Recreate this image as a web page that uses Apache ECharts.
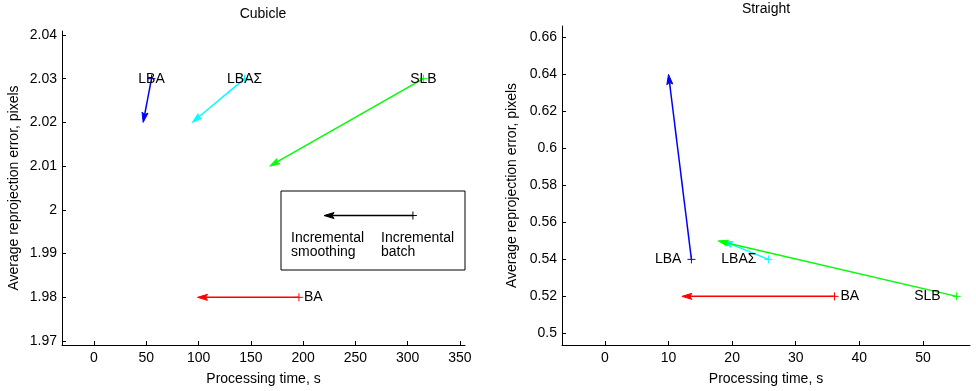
<!DOCTYPE html>
<html>
<head>
<meta charset="utf-8">
<script src="https://cdn.jsdelivr.net/npm/echarts@6/dist/echarts.min.js"></script>
<style>html,body{margin:0;padding:0;background:#fff}#c{width:976px;height:391px}</style>
</head>
<body>
<div id="c"></div>
<script>
// ---- data ----
const methods = ['LBA', 'LBAΣ', 'SLB', 'BA'];
// Cubicle: incremental batch (start, "+") -> incremental smoothing (arrow tip)
const cubicleBatchTime   = [55, 144, 315, 196];
const cubicleBatchError  = [2.03, 2.03, 2.03, 1.98];
const cubicleSmoothTime  = [47, 94, 168, 99];
const cubicleSmoothError = [2.02, 2.02, 2.01, 1.98];
// Straight
const straightBatchTime   = [13.6, 25.7, 55.3, 36.1];
const straightBatchError  = [0.54, 0.54, 0.52, 0.52];
const straightSmoothTime  = [10, 18.5, 17.8, 12.1];
const straightSmoothError = [0.64, 0.55, 0.55, 0.52];
// legend sample arrow (cubicle panel)
const legendNames = ['legend'];
const legendTime  = [305, 220];
const legendError = [1.9987, 1.9987];
// tick labels
const cubicleXTicks  = [0, 50, 100, 150, 200, 250, 300, 350];
const cubicleYTicks  = [1.97, 1.98, 1.99, 2.00, 2.01, 2.02, 2.03, 2.04];
const straightXTicks = [0, 10, 20, 30, 40, 50];
const straightYTicks = [0.50, 0.52, 0.54, 0.56, 0.58, 0.60, 0.62, 0.64, 0.66];

// ---- styles ----
const FONT = 'Liberation Sans, Arial, Helvetica, sans-serif';
const colors = { 'LBA': '#0000ff', 'LBAΣ': '#00ffff', 'SLB': '#00ff00', 'BA': '#ff0000', 'legend': '#000000' };
const cubicleLabelPos  = { 'LBA': ['center', 0], 'LBAΣ': ['center', 0], 'SLB': ['center', 0], 'BA': ['right', 5] };
const straightLabelPos = { 'LBA': ['left', 10], 'LBAΣ': ['left', 12], 'SLB': ['left', 16], 'BA': ['right', 6] };

function buildData(bt, be, st, se) {
  return bt.map((v, i) => [bt[i], be[i], st[i], se[i]]);
}

function makeRender(names, labelPos) {
  return function (params, api) {
    const s = api.coord([api.value(0), api.value(1)]);
    const e = api.coord([api.value(2), api.value(3)]);
    const name = names[params.dataIndex];
    const col = colors[name] || '#000';
    const ang = Math.atan2(e[1] - s[1], e[0] - s[0]);
    const c = Math.cos(ang), sn = Math.sin(ang);
    const L = 10, W = 3;
    const bx = e[0] - L * c, by = e[1] - L * sn;
    const nx = e[0] - 0.8 * L * c, ny = e[1] - 0.8 * L * sn;
    const px = -sn, py = c;
    const children = [
      { type: 'line', shape: { x1: s[0], y1: s[1], x2: nx, y2: ny }, style: { stroke: col, lineWidth: 1.5 } },
      { type: 'polygon', shape: { points: [[e[0], e[1]], [bx + W * px, by + W * py], [nx, ny], [bx - W * px, by - W * py]] }, style: { fill: col, stroke: col, lineWidth: 1 } },
      { type: 'line', shape: { x1: s[0] - 4, y1: s[1], x2: s[0] + 4, y2: s[1] }, style: { stroke: col, lineWidth: 1 } },
      { type: 'line', shape: { x1: s[0], y1: s[1] - 4, x2: s[0], y2: s[1] + 4 }, style: { stroke: col, lineWidth: 1 } }
    ];
    const lp = labelPos && labelPos[name];
    if (lp) {
      let tx = s[0], align = 'center';
      if (lp[0] === 'right') { tx = s[0] + lp[1]; align = 'left'; }
      else if (lp[0] === 'left') { tx = s[0] - lp[1]; align = 'right'; }
      children.push({ type: 'text', x: tx, y: s[1], style: { text: name, fill: '#000', font: '14px ' + FONT, align: align, verticalAlign: 'middle' } });
    }
    return { type: 'group', children: children };
  };
}

function fmt(v) { return String(+(+v).toFixed(2)); }

function xAxis(gridIndex, min, max, ticks) {
  return {
    type: 'value', gridIndex, min, max,
    name: 'Processing time, s', nameLocation: 'middle', nameGap: 27,
    nameTextStyle: { color: '#000', fontSize: 14, fontFamily: FONT },
    axisLine: { show: true, onZero: false, lineStyle: { color: '#000', width: 1 } },
    axisTick: { show: true, inside: true, length: 4, customValues: ticks, lineStyle: { color: '#000' } },
    axisLabel: { show: true, customValues: ticks, formatter: fmt, color: '#000', fontSize: 14, fontFamily: FONT, margin: 6, showMinLabel: true, showMaxLabel: true },
    splitLine: { show: false }
  };
}
function yAxis(gridIndex, min, max, ticks, gap) {
  return {
    type: 'value', gridIndex, min, max,
    name: 'Average reprojection error, pixels', nameLocation: 'middle', nameGap: gap,
    nameTextStyle: { color: '#000', fontSize: 14, fontFamily: FONT },
    axisLine: { show: true, onZero: false, lineStyle: { color: '#000', width: 1 } },
    axisTick: { show: true, inside: true, length: 4, customValues: ticks, lineStyle: { color: '#000' } },
    axisLabel: { show: true, customValues: ticks, formatter: fmt, color: '#000', fontSize: 14, fontFamily: FONT, margin: 5, showMinLabel: true, showMaxLabel: true },
    splitLine: { show: false }
  };
}

const chart = echarts.init(document.getElementById('c'), null, { renderer: 'canvas' });
chart.setOption({
  animation: false,
  backgroundColor: '#fff',
  textStyle: { fontFamily: FONT },
  grid: [
    { left: 62, top: 31, width: 403, height: 317 },
    { left: 562, top: 26, width: 408, height: 322 }
  ],
  xAxis: [
    xAxis(0, -30.6, 354.8, cubicleXTicks),
    xAxis(1, -6.75, 57.4, straightXTicks)
  ],
  yAxis: [
    yAxis(0, 1.9691, 2.0409, cubicleYTicks, 41),
    yAxis(1, 0.4937, 0.6662, straightYTicks, 43)
  ],
  graphic: [
    { type: 'text', x: 263, y: 14, style: { text: 'Cubicle', fill: '#000', font: '14px ' + FONT, align: 'center', verticalAlign: 'middle' } },
    { type: 'text', x: 766, y: 9, style: { text: 'Straight', fill: '#000', font: '14px ' + FONT, align: 'center', verticalAlign: 'middle' } },
    { type: 'rect', shape: { x: 281, y: 191, width: 184, height: 79 }, style: { fill: '#fff', stroke: '#000', lineWidth: 1 }, z: 1 },
    { type: 'text', x: 291, y: 245, z: 10, style: { text: 'Incremental\nsmoothing', fill: '#000', font: '14px ' + FONT, lineHeight: 14, align: 'left', verticalAlign: 'middle' } },
    { type: 'text', x: 381, y: 245, z: 10, style: { text: 'Incremental\nbatch', fill: '#000', font: '14px ' + FONT, lineHeight: 14, align: 'left', verticalAlign: 'middle' } }
  ],
  series: [
    { type: 'custom', name: 'Cubicle', xAxisIndex: 0, yAxisIndex: 0, z: 5,
      renderItem: makeRender(methods, cubicleLabelPos),
      data: buildData(cubicleBatchTime, cubicleBatchError, cubicleSmoothTime, cubicleSmoothError) },
    { type: 'custom', name: 'Legend', xAxisIndex: 0, yAxisIndex: 0, z: 5,
      renderItem: makeRender(legendNames, null),
      data: [[legendTime[0], legendError[0], legendTime[1], legendError[1]]] },
    { type: 'custom', name: 'Straight', xAxisIndex: 1, yAxisIndex: 1, z: 5,
      renderItem: makeRender(methods, straightLabelPos),
      data: buildData(straightBatchTime, straightBatchError, straightSmoothTime, straightSmoothError) }
  ]
});
</script>
</body>
</html>
